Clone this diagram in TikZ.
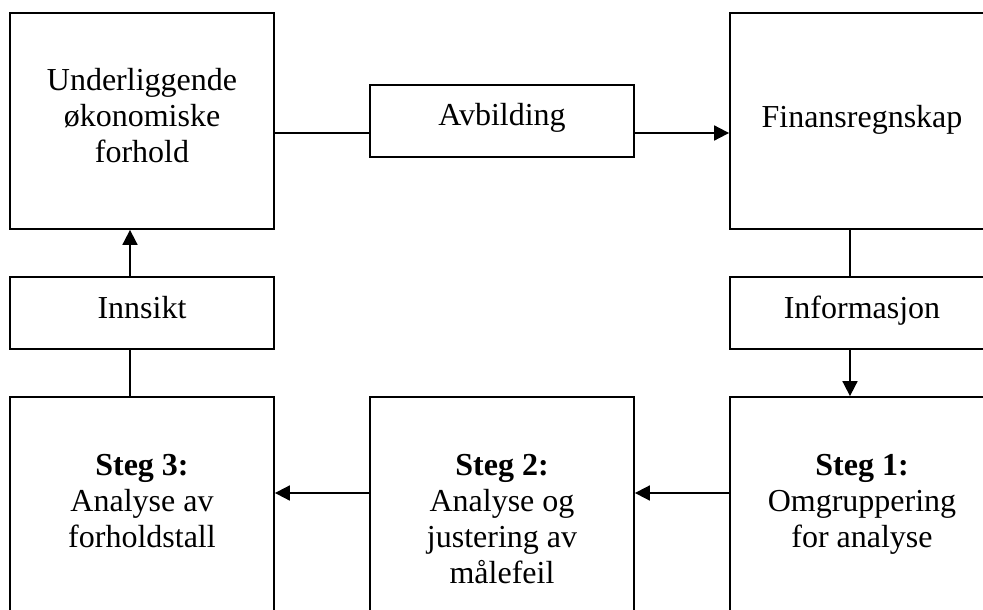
\documentclass[tikz,border=0pt]{standalone}
\usepackage{fontspec}
\setmainfont{Liberation Serif}
\usetikzlibrary{arrows.meta}
\newcommand{\mlines}[1]{\begin{tabular}[t]{@{}c@{}}#1\end{tabular}}
\begin{document}
\begin{tikzpicture}[x=1pt,y=-1pt,
  bigbox/.style={draw, line width=1.8pt, minimum width=264pt, minimum height=216pt, inner sep=0pt},
  smallbox/.style={draw, line width=1.8pt, minimum width=264pt, minimum height=72pt, inner sep=0pt},
  txt/.style={anchor=base, inner sep=0pt, font=\fontsize{32}{36}\selectfont},
  conn/.style={line width=1.8pt},
  arr/.style={conn, -{Triangle[length=15pt,width=15pt]}}]
\useasboundingbox (0,0) rectangle (983,610);
\clip (0,0) rectangle (983,610);
\fill[white] (0,0) rectangle (983,610);
% boxes
\node[bigbox] (ul) at (142,121) {};
\node[smallbox] (avb) at (502,121) {};
\node[bigbox] (fin) at (862,121) {};
\node[smallbox] (inn) at (142,313) {};
\node[smallbox] (info) at (862,313) {};
\node[bigbox] (s3) at (142,505) {};
\node[bigbox] (s2) at (502,505) {};
\node[bigbox] (s1) at (862,505) {};
% texts
\node[txt] (tul) at (142,90.7) {\mlines{Underliggende\\økonomiske\\forhold}};
\node[txt] (tavb) at (502,125.7) {Avbilding};
\node[txt] (tfin) at (862,127) {Finansregnskap};
\node[txt] (tinn) at (142,318) {Innsikt};
\node[txt] (tinfo) at (862,318) {Informasjon};
\node[txt] (ts3) at (142,475) {\mlines{\textbf{Steg 3:}\\Analyse av\\forholdstall}};
\node[txt] (ts2) at (502,475) {\mlines{\textbf{Steg 2:}\\Analyse og\\justering av\\målefeil}};
\node[txt] (ts1) at (862,475) {\mlines{\textbf{Steg 1:}\\Omgruppering\\for analyse}};
% connectors
\draw[conn] ([yshift=-12pt]ul.east) -- ([yshift=-12pt]avb.west);
\draw[arr] ([yshift=-12pt]avb.east) -- ([yshift=-12pt]fin.west);
\draw[conn] ([xshift=-12pt]fin.south) -- ([xshift=-12pt]info.north);
\draw[arr] ([xshift=-12pt]info.south) -- ([xshift=-12pt]s1.north);
\draw[arr] ([yshift=12pt]s1.west) -- ([yshift=12pt]s2.east);
\draw[arr] ([yshift=12pt]s2.west) -- ([yshift=12pt]s3.east);
\draw[conn] ([xshift=-12pt]s3.north) -- ([xshift=-12pt]inn.south);
\draw[arr] ([xshift=-12pt]inn.north) -- ([xshift=-12pt]ul.south);
\end{tikzpicture}
\end{document}
